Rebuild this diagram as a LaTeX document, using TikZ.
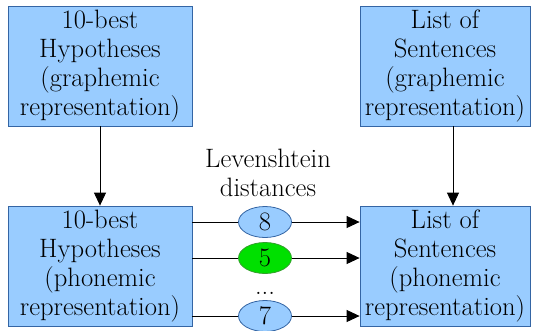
\documentclass[tikz,border=0pt]{standalone}
\usetikzlibrary{arrows.meta,shapes.geometric,calc}
\definecolor{boxfill}{HTML}{99CCFF}
\definecolor{boxline}{HTML}{3465A4}
\definecolor{greenfill}{HTML}{00E000}
\definecolor{greenline}{HTML}{33A02C}
\tikzset{
  txt/.style={font=\fontsize{26.6}{29}\selectfont},
  box/.style={txt, draw=boxline, fill=boxfill, line width=0.8pt, align=center,
    inner sep=0pt},
  dist/.style={txt, ellipse, draw=boxline, fill=boxfill, line width=0.8pt,
    minimum width=53pt, minimum height=31pt, inner sep=0pt},
  arr/.style={line width=0.9pt, -{Triangle[length=13pt,width=12pt]}},
  conn/.style={line width=0.9pt},
  lbl/.style={txt, align=center, inner sep=0pt}
}
\begin{document}
\begin{tikzpicture}[x=1pt,y=-1pt]
\useasboundingbox (0,0) rectangle (539,330);
\node[box, minimum width=184pt, minimum height=120pt] (tl) at (100,66)
  {10-best\\Hypotheses\\(graphemic\\representation)};
\node[box, minimum width=170pt, minimum height=120pt] (tr) at (445,66)
  {List of\\Sentences\\(graphemic\\representation)};
\node[box, minimum width=184pt, minimum height=120pt] (bl) at (100,266)
  {10-best\\Hypotheses\\(phonemic\\representation)};
\node[box, minimum width=170pt, minimum height=120pt] (br) at (445,266)
  {List of\\Sentences\\(phonemic\\representation)};
\node[lbl] (lev) at (268,173) {Levenshtein\\distances};
\node[dist] (d8) at (265,222) {8};
\node[dist, fill=greenfill, draw=greenline] (d5) at (265,258) {5};
\node[lbl, anchor=base] (dots) at (265,294) {...};
\node[dist] (d7) at (265,316) {7};
\draw[arr] (tl.south) -- (bl.north);
\draw[arr] ([xshift=8pt]tr.south) -- ([xshift=8pt]br.north);
\foreach \d in {d8,d5,d7}{
  \draw[conn] (\d.west -| bl.east) -- (\d.west);
  \draw[arr] (\d.east) -- (\d.east -| br.west);
}
\end{tikzpicture}
\end{document}
